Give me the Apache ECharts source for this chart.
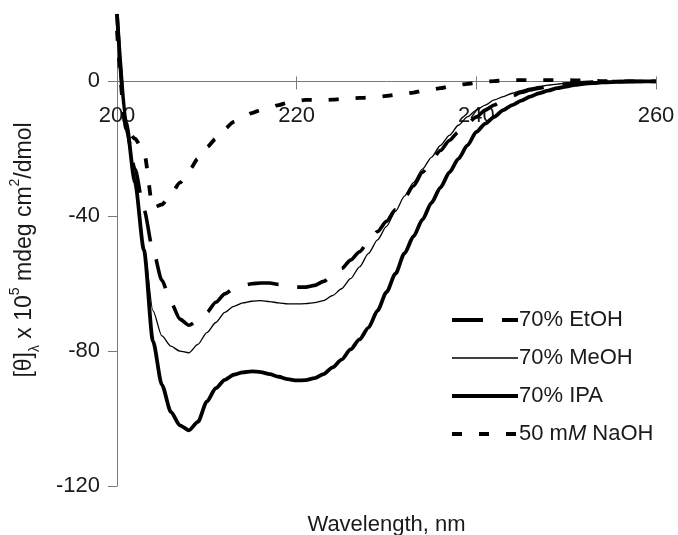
<!DOCTYPE html>
<html>
<head>
<meta charset="utf-8">
<script src="https://cdn.jsdelivr.net/npm/echarts@6/dist/echarts.min.js"></script>
<style>
  html, body { margin: 0; padding: 0; background: #ffffff; }
  #chart { width: 678px; height: 535px; }
</style>
</head>
<body>
<div id="chart"></div>
<script>
// CD spectra: mean residue ellipticity vs wavelength (200–260 nm, 1 nm steps)
const wavelength = [
  200, 201, 202, 203, 204, 205, 206, 207, 208, 209,
  210, 211, 212, 213, 214, 215, 216, 217, 218, 219,
  220, 221, 222, 223, 224, 225, 226, 227, 228, 229,
  230, 231, 232, 233, 234, 235, 236, 237, 238, 239,
  240, 241, 242, 243, 244, 245, 246, 247, 248, 249,
  250, 251, 252, 253, 254, 255, 256, 257, 258, 259, 260
];

const etohValues = [
  20, -14, -26, -38, -50, -59, -65.5, -70.5, -72.3, -71,
  -68.5, -65.5, -63, -61.5, -60.5, -60, -59.8, -59.8, -60.2, -60.7,
  -61, -61, -60.5, -59.3, -57.5, -55.5, -53, -50.5, -47.5, -44.5,
  -41.5, -38, -34.5, -31, -27, -23.5, -20.5, -17.5, -15, -12.5,
  -10.5, -8.5, -7, -5.5, -4.3, -3.3, -2.5, -2, -1.5, -1,
  -0.7, -0.5, -0.3, -0.2, -0.1, 0, 0, 0, 0, 0, 0
];

const meohValues = [
  20, -12, -28, -49, -68, -75.5, -78.5, -80, -80.5, -78,
  -74.5, -71.5, -68.5, -66.7, -65.7, -65.2, -65, -65.3, -65.7, -66,
  -66, -65.9, -65.6, -65, -63.5, -61.5, -58.5, -55, -51, -47,
  -43, -38.5, -34, -30, -26, -22.5, -19, -16, -13, -10.5,
  -8.5, -7, -5.5, -4.5, -3.5, -2.7, -2, -1.5, -1.1, -0.8,
  -0.5, -0.3, -0.2, -0.1, 0, 0, 0, 0, 0, 0, 0
];

const ipaValues = [
  20, -12, -30, -50, -77, -90, -98, -102, -103.5, -101,
  -95, -91, -88.5, -87, -86.3, -86, -86.2, -86.8, -87.6, -88.3,
  -88.7, -88.6, -88, -86.8, -84.8, -82.5, -79.5, -76.5, -73, -68,
  -62.5, -57, -51, -46, -41, -36, -31.5, -27, -23, -19,
  -15, -12.5, -10.5, -8.5, -7, -5.7, -4.5, -3.5, -2.7, -2,
  -1.5, -1, -0.7, -0.5, -0.3, -0.2, -0.1, 0, 0, 0, 0
];

const naohValues = [
  15, -14, -17, -21, -37.5, -36.5, -33.5, -30, -26.5, -23,
  -19.5, -17, -14, -12, -10.5, -9.4, -8.5, -7.7, -7, -6.3,
  -5.8, -5.5, -5.5, -5.5, -5.4, -5.2, -5, -4.9, -4.8, -4.6,
  -4.3, -4, -3.7, -3.3, -2.8, -2.4, -2, -1.5, -1.1, -0.7,
  -0.4, -0.1, 0.1, 0.3, 0.4, 0.4, 0.4, 0.4, 0.4, 0.4,
  0.4, 0.3, 0.3, 0.2, 0.1, 0, 0, 0, 0, 0, 0
];

const seriesNames = ['70% EtOH', '70% MeOH', '70% IPA', '50 mM NaOH'];
const xTicks = [200, 220, 240, 260];
const yTicks = [-120, -80, -40, 0];
const Y_MIN = -120;
const Y_MAX = 20;

const FONT = '"Liberation Sans", Arial, Helvetica, sans-serif';
const TEXT = '#1a1a1a';
const AXIS = '#7a7a7a';

// legend keys drawn as filled strips (x in px of the 66 px key, height normalised to 1)
const legendKeys = {
  '70% EtOH': 'path://M0,0H31V1H0Z M50,0H66V1H50Z',
  '70% MeOH': 'path://M0,0.33H66V0.67H0Z M0,0L0,1Z',
  '70% IPA': 'path://M0,0H66V1H0Z',
  '50 mM NaOH': 'path://M0,0H10V1H0Z M27,0H37V1H27Z M54,0H64V1H54Z M66,0L66,1Z'
};

function pairs(values) {
  return wavelength.map((w, i) => [w, values[i]]);
}

function lineSeries(name, values, style) {
  return {
    name: name,
    type: 'line',
    xAxisIndex: 0,
    yAxisIndex: 0,
    data: pairs(values),
    showSymbol: false,
    symbol: 'none',
    smooth: 0.25,
    smoothMonotone: 'x',
    clip: true,
    animation: false,
    itemStyle: { color: '#000000' },
    lineStyle: Object.assign({ color: '#000000', cap: 'butt', join: 'round' }, style)
  };
}

// Plot area spans 117..656 px horizontally and 14..486 px vertically.
const PLOT = { left: 117, right: 22, top: 14, bottom: 49 };
// The zero line sits at y = top + height * Y_MAX / (Y_MAX - Y_MIN).
const plotH = 535 - PLOT.top - PLOT.bottom;
const zeroY = PLOT.top + plotH * Y_MAX / (Y_MAX - Y_MIN);

const mainGrid = Object.assign({ containLabel: false, outerBoundsMode: 'none' }, PLOT);
// strip grid whose lower edge is the zero line, carrying the wavelength axis
const zeroGrid = { left: PLOT.left, right: PLOT.right, top: PLOT.top, bottom: 535 - zeroY,
                   containLabel: false, outerBoundsMode: 'none' };

const chart = echarts.init(document.getElementById('chart'), null, { renderer: 'canvas' });

chart.setOption({
  backgroundColor: '#ffffff',
  animation: false,
  textStyle: { fontFamily: FONT, color: TEXT },
  grid: [mainGrid, Object.assign({}, zeroGrid), Object.assign({}, zeroGrid)],
  legend: {
    orient: 'vertical',
    left: 447,
    top: 304,
    itemWidth: 66,
    itemHeight: 3.8,
    itemGap: 16,
    symbolKeepAspect: false,
    data: seriesNames.map(n => ({ name: n, icon: legendKeys[n] })),
    selectedMode: false,
    itemStyle: { color: '#000000', borderWidth: 0 },
    formatter: function (name) {
      return name === '50 mM NaOH' ? '50 m{it|M} NaOH' : name;
    },
    textStyle: {
      fontFamily: FONT,
      fontSize: 22,
      color: TEXT,
      padding: [0, 0, 0, -4],
      rich: {
        it: { fontFamily: FONT, fontSize: 22, fontStyle: 'italic', color: TEXT }
      }
    }
  },
  xAxis: [
    {
      // data axis of the plot; only its title is drawn, under the plot
      type: 'value',
      gridIndex: 0,
      position: 'bottom',
      min: 200,
      max: 260,
      interval: 20,
      name: 'Wavelength, nm',
      nameLocation: 'middle',
      nameGap: 28,
      nameTextStyle: { fontFamily: FONT, fontSize: 22, color: TEXT },
      axisLine: { show: false, onZero: false },
      axisTick: { show: false },
      axisLabel: { show: false },
      splitLine: { show: false }
    },
    {
      // wavelength axis line, lower tick halves and labels on the zero line
      type: 'value',
      gridIndex: 1,
      position: 'bottom',
      min: 200,
      max: 260,
      interval: 20,
      axisLine: { show: true, onZero: false, lineStyle: { color: AXIS, width: 1 } },
      axisTick: { show: true, inside: false, length: 8, customValues: xTicks, lineStyle: { color: AXIS, width: 1 } },
      axisLabel: { show: true, margin: 24, fontSize: 22, fontFamily: FONT, color: TEXT, customValues: xTicks },
      splitLine: { show: false }
    },
    {
      // upper tick halves on the zero line
      type: 'value',
      gridIndex: 2,
      position: 'bottom',
      min: 200,
      max: 260,
      interval: 20,
      axisLine: { show: false, onZero: false },
      axisTick: { show: true, inside: true, length: 5, customValues: xTicks, lineStyle: { color: AXIS, width: 1 } },
      axisLabel: { show: false },
      splitLine: { show: false }
    }
  ],
  yAxis: [
    {
      type: 'value',
      gridIndex: 0,
      min: Y_MIN,
      max: Y_MAX,
      interval: 40,
      name: '[θ]{sub|λ} x 10{sup|5} mdeg cm{sup|2}/dmol',
      nameLocation: 'middle',
      nameGap: 75,
      nameRotate: 90,
      nameTextStyle: {
        fontFamily: FONT,
        fontSize: 23,
        color: TEXT,
        lineHeight: 34,
        rich: {
          sub: { fontFamily: FONT, fontSize: 14, color: TEXT, verticalAlign: 'bottom', lineHeight: 14 },
          sup: { fontFamily: FONT, fontSize: 14, color: TEXT, verticalAlign: 'top', lineHeight: 14 }
        }
      },
      axisLine: { show: true, onZero: false, lineStyle: { color: AXIS, width: 1 } },
      axisTick: { show: true, inside: false, length: 9, customValues: yTicks, lineStyle: { color: AXIS, width: 1 } },
      axisLabel: { show: true, margin: 17, fontSize: 22, fontFamily: FONT, color: TEXT, customValues: yTicks },
      splitLine: { show: false }
    },
    {
      type: 'value', gridIndex: 1, min: 0, max: Y_MAX, show: false,
      axisLine: { show: false, onZero: false }, splitLine: { show: false }
    },
    {
      type: 'value', gridIndex: 2, min: 0, max: Y_MAX, show: false,
      axisLine: { show: false, onZero: false }, splitLine: { show: false }
    }
  ],
  series: [
    lineSeries('70% EtOH', etohValues, { width: 3.6, type: [31, 19] }),
    lineSeries('70% MeOH', meohValues, { width: 1.3, type: 'solid' }),
    lineSeries('70% IPA', ipaValues, { width: 3.8, type: 'solid' }),
    lineSeries('50 mM NaOH', naohValues, { width: 3.8, type: [10, 17] })
  ]
});
</script>
</body>
</html>
